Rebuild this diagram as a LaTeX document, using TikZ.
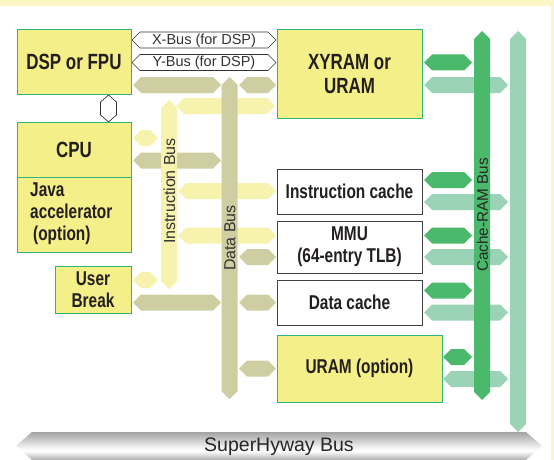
\documentclass[tikz,border=0pt]{standalone}
\usepackage{fontspec}
\setmainfont{Liberation Sans}
\newfontfamily\cb[FakeStretch=0.77]{Liberation Sans}
\definecolor{boxyel}{HTML}{F5EF89}
\definecolor{boxgrn}{HTML}{2EB57A}
\definecolor{olivebus}{HTML}{CFCEA3}
\definecolor{yelbus}{HTML}{F7F3AE}
\definecolor{dgrn}{HTML}{4BB96B}
\definecolor{lgrn}{HTML}{9BD3B7}
\definecolor{band}{HTML}{FAF6C6}
\definecolor{txt}{HTML}{231F20}
\pgfdeclareverticalshading{hyway}{100bp}{rgb(0bp)=(.68,.68,.68); rgb(25bp)=(.68,.68,.68); rgb(41bp)=(1,1,1); rgb(46bp)=(.97,.97,.97); rgb(75bp)=(.64,.64,.64); rgb(100bp)=(.64,.64,.64)}
% horizontal double-headed bus: [style]{x1}{x2}{ycenter}
\newcommand\hbus[4][]{\fill[#1] (#2,#4) -- ({#2+8},{#4-8}) -- ({#3-8},{#4-8}) -- (#3,#4) -- ({#3-8},{#4+8}) -- ({#2+8},{#4+8}) -- cycle;}
% vertical double-headed bus: [style]{xcenter}{ytop}{ybottom}
\newcommand\vbus[4][]{\fill[#1] (#2,#3) -- ({#2+8},{#3+8}) -- ({#2+8},{#4-8}) -- (#2,#4) -- ({#2-8},{#4-8}) -- ({#2-8},{#3+8}) -- cycle;}
\begin{document}
\begin{tikzpicture}[x=1pt,y=-1pt,
  ybox/.style={draw=boxgrn, line width=1pt, fill=boxyel, inner sep=0pt, text=txt, align=center,
    font=\cb\bfseries\fontsize{20}{22}\selectfont},
  wbox/.style={draw=black!75, line width=0.8pt, fill=white, inner sep=0pt, text=txt, align=center,
    font=\cb\bfseries\fontsize{20}{22}\selectfont},
  big/.style={font=\cb\bfseries\fontsize{22}{24}\selectfont},
  buslbl/.style={text=black!80, inner sep=0pt, font=\fontsize{16}{18}\selectfont},
  outbus/.style={draw=black!80, line width=0.7pt, fill=white}]
\useasboundingbox (0,0) rectangle (554,460);
\fill[white] (0,0) rectangle (554,460);
\fill[band] (0,0) rectangle (554,6);
\fill[band] (551,0) rectangle (554,460);

% X-Bus and Y-Bus (outlined)
\filldraw[outbus] (132,40) -- (140,32) -- (268,32) -- (276,40) -- (268,48) -- (140,48) -- cycle;
\filldraw[outbus] (132,62.5) -- (140,54.5) -- (268,54.5) -- (276,62.5) -- (268,70.5) -- (140,70.5) -- cycle;
\node[buslbl, font=\fontsize{14.5}{16}\selectfont] (xbus) at (204,40.5) {X-Bus (for DSP)};
\node[buslbl, font=\fontsize{14.5}{16}\selectfont] (ybus) at (204,63) {Y-Bus (for DSP)};

% DSP - CPU link
\filldraw[outbus] (108.5,95) -- (116.5,102) -- (116.5,115) -- (108.5,122) -- (100.5,115) -- (100.5,102) -- cycle;

% horizontal olive (data bus) links
\hbus[olivebus]{133}{221}{85}
\hbus[olivebus]{239}{276}{85}
\hbus[olivebus]{133}{221}{160.5}
\hbus[olivebus]{239}{276}{257}
\hbus[olivebus]{133}{221}{302.5}
\hbus[olivebus]{239}{276}{302.5}
\hbus[olivebus]{239}{276}{368.5}
% horizontal yellow (instruction bus) links
\hbus[yelbus]{176}{275}{106}
\hbus[yelbus]{133}{158}{138}
\hbus[yelbus]{178}{276}{191}
\hbus[yelbus]{178}{276}{235.5}
\hbus[yelbus]{133}{158}{280}
% horizontal green links
\hbus[lgrn]{424}{508}{85}
\hbus[lgrn]{424}{508}{202}
\hbus[lgrn]{424}{508}{257}
\hbus[lgrn]{424}{508}{312.5}
\hbus[lgrn]{443}{508}{379}
\hbus[dgrn]{424}{472}{62.5}
\hbus[dgrn]{424}{472}{180}
\hbus[dgrn]{424}{472}{235.5}
\hbus[dgrn]{424}{472}{290.5}
\hbus[dgrn]{443}{472}{357}

% vertical buses
\vbus[yelbus]{169}{100}{289}
\vbus[olivebus]{229.5}{77}{399}
\vbus[lgrn]{518}{31}{432}
\vbus[dgrn]{482}{31}{400}
\node[buslbl, rotate=90] (ibuslbl) at (169.5,191) {Instruction Bus};
\node[buslbl, rotate=90] (dbuslbl) at (230,238) {Data Bus};
\node[buslbl, rotate=90, text=black!85, font=\fontsize{15.3}{17}\selectfont] (cbuslbl) at (482.5,215) {Cache-RAM Bus};

% SuperHyway bus
\shade[shading=hyway] (16,446) -- (32,432) -- (526,432) -- (542,446) -- (526,460) -- (32,460) -- cycle;
\node[buslbl, text=black!85, font=\fontsize{19.5}{21}\selectfont] (shbus) at (279,447) {SuperHyway Bus};

% boxes
\node[ybox, big, minimum width=114, minimum height=64] (dsp) at (74,62) {DSP or FPU};
\node[ybox, big, minimum width=114, minimum height=55] (cpu) at (74,149.5) {CPU};
\node[ybox, minimum width=114, minimum height=75] (java) at (74,214.5) {};
\node[anchor=west, align=left, inner sep=0pt, text=txt, font=\cb\bfseries\fontsize{20}{22}\selectfont] (javalbl) at (30,214) {Java\\accelerator\\\hspace*{3pt}(option)};
\node[ybox, minimum width=76, minimum height=47] (ub) at (93,289.5) {User\\Break};
\node[ybox, big, minimum width=145, minimum height=88] (xyram) at (349.5,74) {XYRAM or\\URAM};
\node[wbox, minimum width=145, minimum height=45] (icache) at (349.5,191.5) {Instruction cache};
\node[wbox, minimum width=145, minimum height=52] (mmu) at (349.5,247) {MMU\\(64-entry TLB)};
\node[wbox, minimum width=145, minimum height=45] (dcache) at (349.5,302.5) {Data cache};
\node[ybox, minimum width=165, minimum height=67] (uram) at (359.5,368.5) {URAM (option)};
\end{tikzpicture}
\end{document}
